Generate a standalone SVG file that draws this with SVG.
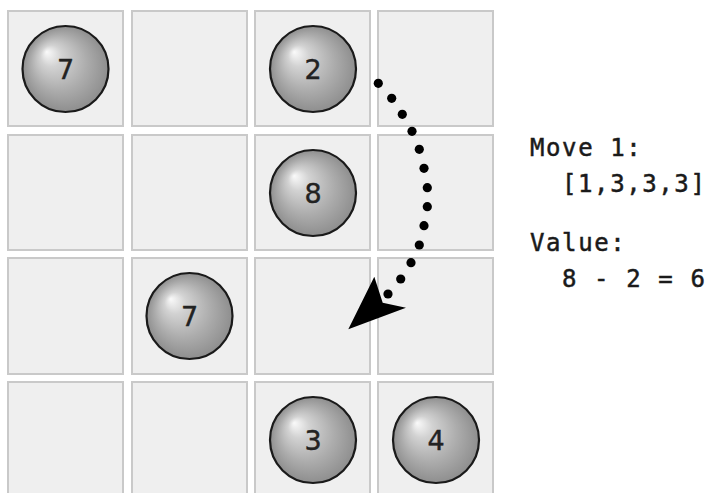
<svg xmlns="http://www.w3.org/2000/svg" width="712" height="493" viewBox="0 0 712 493">
<defs>
<radialGradient id="ballGrad" cx="0.5" cy="0.5" r="0.5" fx="0.28" fy="0.3">
<stop offset="0" stop-color="#fafafa"/>
<stop offset="0.25" stop-color="#d2d2d2"/>
<stop offset="0.65" stop-color="#acacac"/>
<stop offset="1" stop-color="#8e8e8e"/>
</radialGradient>
<style>
.cell{fill:#efefef;stroke:#c9c9c9;stroke-width:2}
.ball{fill:url(#ballGrad);stroke:#1a1a1a;stroke-width:2.2}
.num{font-family:"DejaVu Sans",Verdana,sans-serif;font-size:27px;fill:#222;stroke:#222;stroke-width:0.4;text-anchor:middle}
.code{font-family:"DejaVu Sans Mono",monospace;font-size:24px;fill:#1a1a1a;stroke:#1a1a1a;stroke-width:0.5;letter-spacing:1.6px}
.dot{fill:#000}
</style>
</defs>
<rect width="712" height="493" fill="#ffffff"/>
<g id="grid">
<rect class="cell" x="8" y="11" width="115" height="115"/>
<rect class="cell" x="132" y="11" width="115" height="115"/>
<rect class="cell" x="255" y="11" width="115" height="115"/>
<rect class="cell" x="378" y="11" width="115" height="115"/>
<rect class="cell" x="8" y="135" width="115" height="115"/>
<rect class="cell" x="132" y="135" width="115" height="115"/>
<rect class="cell" x="255" y="135" width="115" height="115"/>
<rect class="cell" x="378" y="135" width="115" height="115"/>
<rect class="cell" x="8" y="258" width="115" height="116"/>
<rect class="cell" x="132" y="258" width="115" height="116"/>
<rect class="cell" x="255" y="258" width="115" height="116"/>
<rect class="cell" x="378" y="258" width="115" height="116"/>
<rect class="cell" x="8" y="382" width="115" height="120"/>
<rect class="cell" x="132" y="382" width="115" height="120"/>
<rect class="cell" x="255" y="382" width="115" height="120"/>
<rect class="cell" x="378" y="382" width="115" height="120"/>
</g>
<g id="ball-7a"><circle class="ball" cx="65.5" cy="69" r="43"/><text class="num" x="65.5" y="79">7</text></g>
<g id="ball-2"><circle class="ball" cx="313" cy="69" r="43"/><text class="num" x="313" y="79">2</text></g>
<g id="ball-8"><circle class="ball" cx="313" cy="193" r="43"/><text class="num" x="313" y="203">8</text></g>
<g id="ball-7b"><circle class="ball" cx="189.5" cy="316" r="43"/><text class="num" x="189.5" y="326">7</text></g>
<g id="ball-3"><circle class="ball" cx="313" cy="440" r="43"/><text class="num" x="313" y="450">3</text></g>
<g id="ball-4"><circle class="ball" cx="436" cy="440" r="43"/><text class="num" x="436" y="450">4</text></g>
<g id="connectors">
<circle class="dot" cx="378.3" cy="83.3" r="4.6"/>
<circle class="dot" cx="391.7" cy="98.3" r="4.6"/>
<circle class="dot" cx="402.3" cy="114.3" r="4.6"/>
<circle class="dot" cx="412" cy="131.3" r="4.6"/>
<circle class="dot" cx="419.3" cy="149.3" r="4.6"/>
<circle class="dot" cx="424" cy="168.3" r="4.6"/>
<circle class="dot" cx="427.3" cy="187.7" r="4.6"/>
<circle class="dot" cx="427.3" cy="206.7" r="4.6"/>
<circle class="dot" cx="424" cy="225.7" r="4.6"/>
<circle class="dot" cx="419.3" cy="245" r="4.6"/>
<circle class="dot" cx="411" cy="262.7" r="4.6"/>
<circle class="dot" cx="400.7" cy="279" r="4.6"/>
<circle class="dot" cx="388" cy="294" r="4.6"/>
<polygon class="dot" points="348.3,329.3 374.3,276.7 382.7,302.7 406,307.7"/>
</g>
<g id="label">
<text class="code" x="530" y="156">Move 1:</text>
<text class="code" x="562" y="192">[1,3,3,3]</text>
<text class="code" x="530" y="251">Value:</text>
<text class="code" x="562" y="287">8 - 2 = 6</text>
</g>
</svg>
